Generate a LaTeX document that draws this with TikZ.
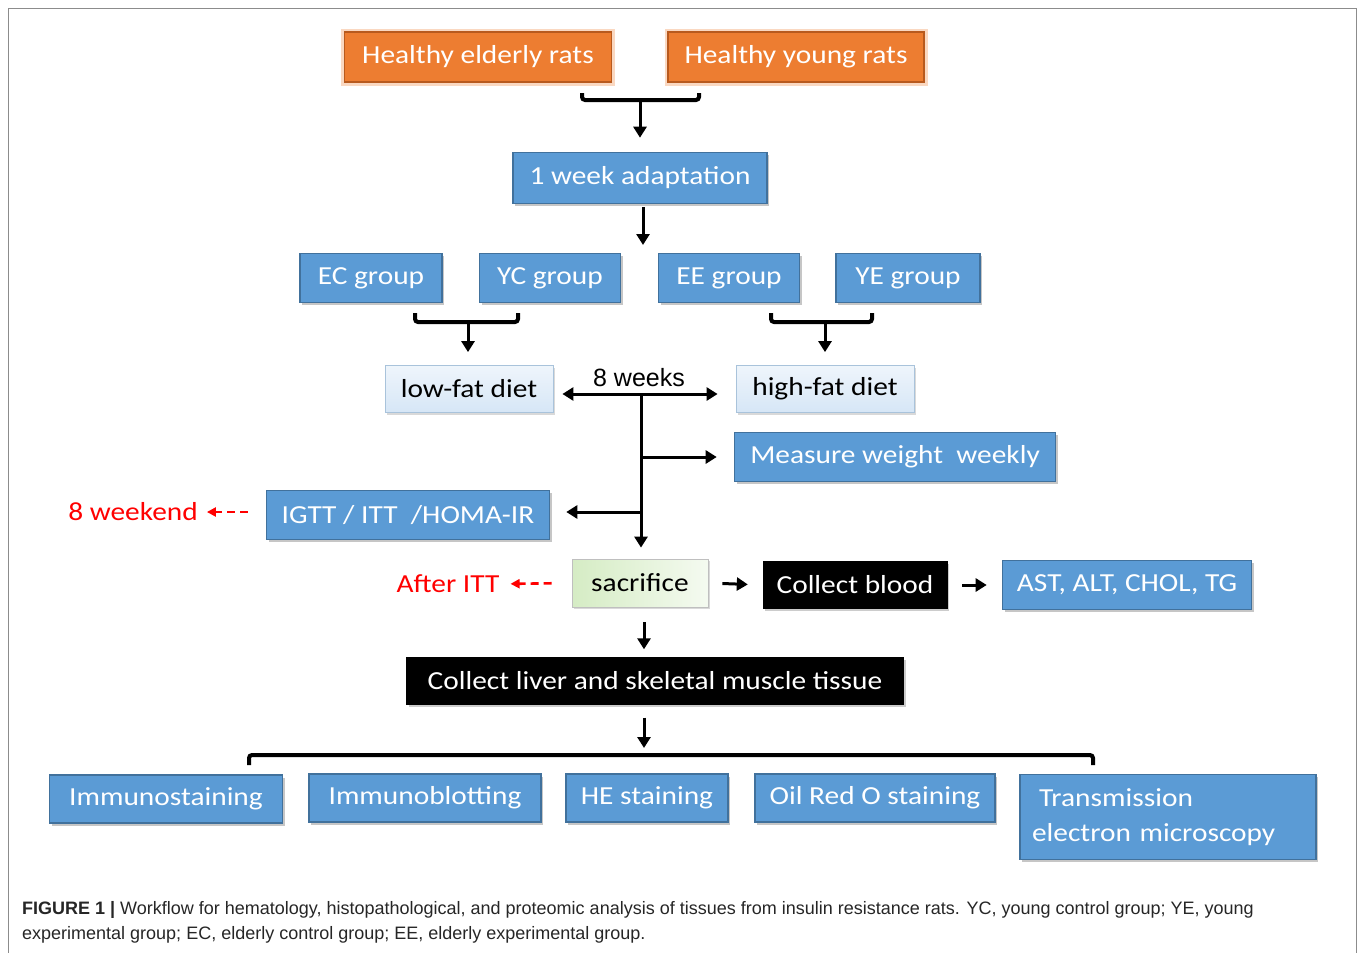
\documentclass[tikz,border=0pt]{standalone}
\usepackage{fontspec}
\setmainfont{Carlito}[FakeStretch=1.13]
\newfontfamily\capfont{Liberation Sans}
\usepackage{tikz}
\usepackage{xcolor}
\usetikzlibrary{arrows.meta,shadows}

\definecolor{blueF}{HTML}{5B9BD5}
\definecolor{blueD}{HTML}{41719C}
\definecolor{orangeF}{HTML}{ED7D31}
\definecolor{orangeD}{HTML}{B85A1E}
\definecolor{paleblue}{HTML}{D6E6F6}
\definecolor{palegreen}{HTML}{D5ECC4}
\definecolor{capgray}{HTML}{262626}

\begin{document}
\begin{tikzpicture}[x=1pt, y=-1pt,
    every node/.style = {font=\fontsize{26}{35}\selectfont, inner sep=0},
    bluebox/.style = {draw=blueD, line width=1.6pt, fill=blueF, text=white,
      minimum height=49,
      drop shadow={shadow xshift=2pt, shadow yshift=-2.5pt, opacity=0.45}},
    ratbox/.style = {draw=orangeD, line width=1.6pt, fill=orangeF, text=white,
      minimum height=50,
      preaction={draw=orangeF!30, line width=7pt}},
    dietbox/.style = {draw=paleblue!70!blueD, line width=0.8pt,
      top color=paleblue!40, bottom color=paleblue, minimum height=47,
      drop shadow={shadow xshift=1.5pt, shadow yshift=-2pt, opacity=0.3}},
    killbox/.style = {draw=black!25, line width=0.8pt,
      left color=palegreen, right color=palegreen!25, minimum height=48,
      drop shadow={shadow xshift=1.5pt, shadow yshift=-2pt, opacity=0.3}},
    darkbox/.style = {draw=black, fill=black, text=white, minimum height=47,
      drop shadow={shadow xshift=2pt, shadow yshift=-2.5pt, opacity=0.4}},
    note/.style = {text=red},
    arr/.style = {line width=3pt, -{Triangle[length=11pt, width=13pt]}},
    dblarr/.style = {line width=3pt, {Triangle[length=11pt, width=13pt]}-{Triangle[length=11pt, width=13pt]}},
    redarr/.style = {red, line width=2.6pt, dash pattern=on 8pt off 5pt,
      -{Triangle[length=9pt, width=9pt]}},
    brace/.style = {line width=4pt, rounded corners=3pt}]

  \useasboundingbox (0,0) rectangle (1358,953);
  \draw[black!45, line width=0.8pt] (8,960) -- (8,8) -- (1356,8) -- (1356,960);

  \node[ratbox, minimum width=267] (elder) at (478,57) {Healthy elderly rats};
  \node[ratbox, minimum width=256] (young) at (796,57) {Healthy young rats};
  \node[bluebox, minimum width=254, minimum height=51] (adapt) at (640,178) {1 week adaptation};

  \node[bluebox, minimum width=142] (ec) at (371,278) {EC group};
  \node[bluebox, minimum width=141] (yc) at (550,278) {YC group};
  \node[bluebox, minimum width=141] (ee) at (729,278) {EE group};
  \node[bluebox, minimum width=144] (ye) at (908,278) {YE group};

  \node[dietbox, minimum width=168] (low) at (469,389) {low-fat diet};
  \node[dietbox, minimum width=178] (high) at (825,389) {high-fat diet};
  \node[bluebox, minimum width=321] (weight) at (895,457) {Measure weight\ \ weekly};
  \node[bluebox, minimum width=283] (tests) at (408,515) {IGTT / ITT\ \ /HOMA-IR};
  \node[note] (wkend) at (133,512) {8 weekend};

  \node[killbox, minimum width=136] (sacr) at (640,583) {sacrifice};
  \node[note] (after) at (448,584) {After ITT};
  \node[darkbox, minimum width=184] (blood) at (855,585) {Collect blood};
  \node[bluebox, minimum width=249] (lab) at (1127,585) {AST, ALT, CHOL, TG};
  \node[darkbox, minimum width=497] (tissue) at (655,681) {Collect liver and skeletal muscle tissue};

  \node[bluebox, minimum width=233, minimum height=48] (immst) at (166,799) {Immunostaining};
  \node[bluebox, minimum width=232, minimum height=48] (immbl) at (425,798) {Immunoblotting};
  \node[bluebox, minimum width=162, minimum height=48] (he) at (647,798) {HE staining};
  \node[bluebox, minimum width=240, minimum height=48] (oil) at (875,798) {Oil Red O staining};
  \node[bluebox, minimum height=85, text width=272, inner xsep=12, align=left] (tem) at (1168,817)
    {\hspace{7pt}Transmission\\electron microscopy};

  \coordinate (b1l) at (582,93);   \coordinate (b1r) at (699,93);   \coordinate (b1m) at (640,100);
  \coordinate (split) at (643,245);
  \coordinate (b2l) at (415,313);  \coordinate (b2r) at (518,313);  \coordinate (b2m) at (468,322);
  \coordinate (b3l) at (771,313);  \coordinate (b3r) at (872,313);  \coordinate (b3m) at (825,322);
  \coordinate (hub) at (641,394);
  \coordinate (b4l) at (249,765);  \coordinate (b4r) at (1093,765); \coordinate (b4m) at (644,755);

  \draw[brace] (b1l) -- ++(0,7) -| (b1r);
  \draw[arr, shorten >=14pt] (b1m) -- (b1m |- adapt.north);
  \draw[arr] ([xshift=3pt]adapt.south) ++(0,3) -- (split);

  \draw[brace] (b2l) -- ++(0,9) -| (b2r);
  \draw[arr, shorten >=13pt] (b2m) -- (b2m |- low.north);
  \draw[brace] (b3l) -- ++(0,9) -| (b3r);
  \draw[arr, shorten >=13pt] (b3m) -- (high.north);

  \draw[dblarr, shorten <=9pt, shorten >=18pt] ([yshift=-5pt]low.east) -- ([yshift=-5pt]high.west);
  \node[font=\capfont\fontsize{25}{28}\selectfont] (span) at (639,378) {8 weeks};
  \draw[arr, shorten >=11pt] (hub) -- (hub |- sacr.north);
  \draw[arr, shorten >=17pt] (hub |- weight.west) -- (weight.west);
  \draw[arr, shorten >=16pt] (hub |- 0,512) -- ([yshift=3pt]tests.east);
  \draw[redarr, shorten <=18pt, shorten >=9pt] ([yshift=3pt]tests.west) -- (wkend.east);
  \draw[redarr, shorten <=20pt, shorten >=11pt] (sacr.west) -- (after.east);

  \draw[arr, shorten <=14pt, shorten >=15pt] (sacr.east) -- (blood.west);
  \draw[arr, shorten <=15pt, shorten >=15pt] (blood.east) -- (lab.west);
  \draw[arr, shorten <=15pt, shorten >=8pt] ([xshift=4pt]sacr.south) -- ([xshift=4pt]sacr.south |- tissue.north);
  \draw[arr, shorten <=13pt, shorten >=7pt] (b4m |- tissue.south) -- (b4m);
  \draw[brace] (b4l) -- ++(0,-10) -| (b4r);

  \node[anchor=base west, align=left, font=\capfont\fontsize{18}{25}\selectfont, text=capgray] (cap) at (22,939)
    {\textbf{FIGURE 1 |} Workflow for hematology, histopathological, and proteomic analysis of tissues from insulin resistance rats. YC, young control group; YE, young\\
     experimental group; EC, elderly control group; EE, elderly experimental group.};
\end{tikzpicture}
\end{document}
